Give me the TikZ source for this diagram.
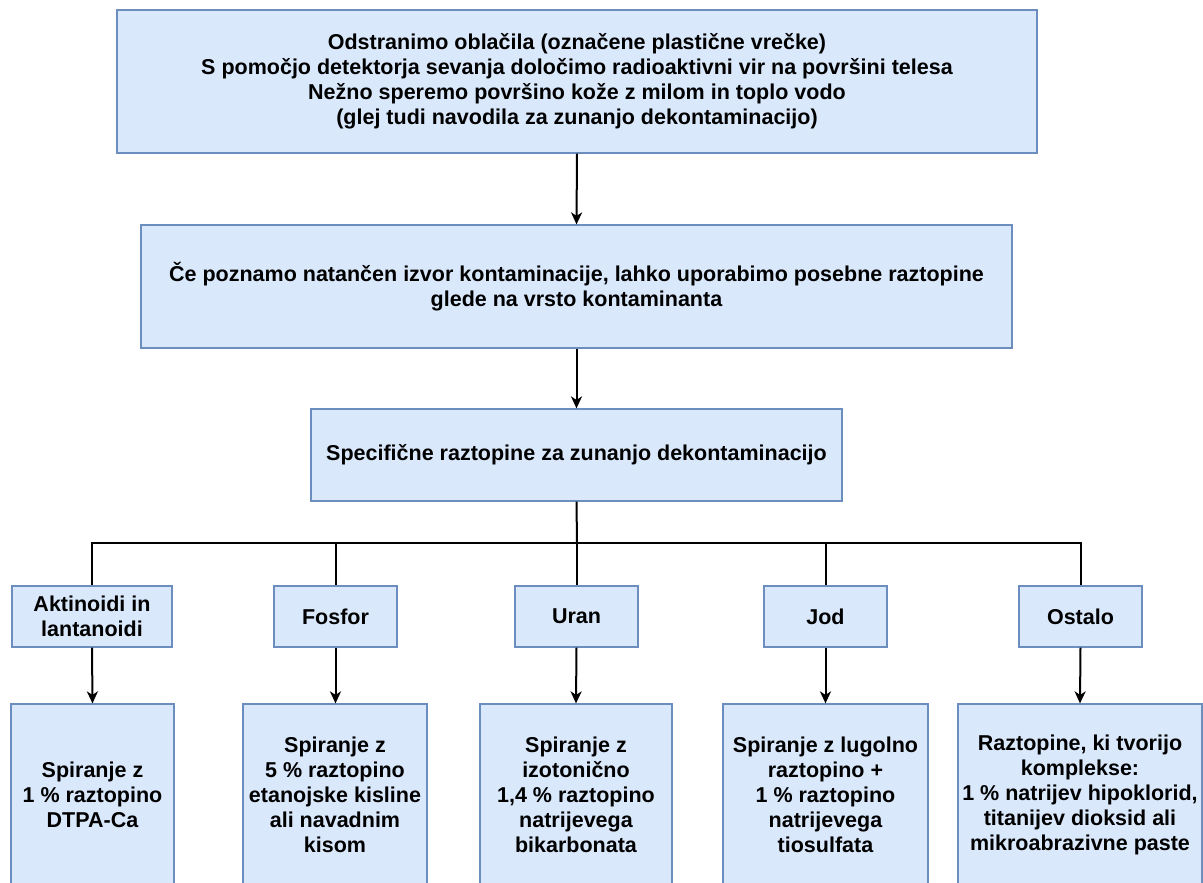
\documentclass[tikz,border=0pt]{standalone}
\usepackage{fontspec}
\setmainfont{Liberation Sans}
\usetikzlibrary{arrows.meta}
\definecolor{boxfill}{HTML}{DAE8FC}
\definecolor{boxline}{HTML}{6C8EBF}
\tikzset{
  box/.style={draw=boxline, fill=boxfill, line width=1.2pt, align=center, inner sep=0pt,
    font=\fontsize{21.5}{25}\selectfont\bfseries},
  conn/.style={draw=black, line width=2pt},
  arr/.style={conn, -{Stealth[length=12pt,width=11pt,inset=3.5pt]}}
}
\begin{document}
\begin{tikzpicture}[x=1pt,y=-1pt]
\useasboundingbox[fill=white] (0,0) rectangle (1203,883);
\node[box, minimum width=920pt, minimum height=143pt] (top) at (577,81.5)
  {Odstranimo oblačila (označene plastične vrečke)\\
   S pomočjo detektorja sevanja določimo radioaktivni vir na površini telesa\\
   Nežno speremo površino kože z milom in toplo vodo\\
   (glej tudi navodila za zunanjo dekontaminacijo)};
\node[box, minimum width=871pt, minimum height=123pt] (second) at (576.5,286.5)
  {Če poznamo natančen izvor kontaminacije, lahko uporabimo posebne raztopine\\
   glede na vrsto kontaminanta};
\node[box, minimum width=531pt, minimum height=92pt] (third) at (576.5,455)
  {Specifične raztopine za zunanjo dekontaminacijo};
% categories
\node[box, minimum width=160pt, minimum height=61pt] (c1) at (92,616.5) {Aktinoidi in\\lantanoidi};
\node[box, minimum width=123pt, minimum height=61pt] (c2) at (335.5,616.5) {Fosfor};
\node[box, minimum width=123pt, minimum height=61pt] (c3) at (576.5,616.5) {Uran};
\node[box, minimum width=123pt, minimum height=61pt] (c4) at (825.5,616.5) {Jod};
\node[box, minimum width=123pt, minimum height=61pt] (c5) at (1080.5,616.5) {Ostalo};
% bottom boxes
\node[box, minimum width=163pt, minimum height=182pt] (b1) at (92.5,795)
  {Spiranje z\\1 \% raztopino\\DTPA-Ca};
\node[box, minimum width=184pt, minimum height=182pt] (b2) at (335,795)
  {Spiranje z\\5 \% raztopino\\etanojske kisline\\ali navadnim\\kisom};
\node[box, minimum width=192pt, minimum height=182pt] (b3) at (576,795)
  {Spiranje z\\izotonično\\1,4 \% raztopino\\natrijevega\\bikarbonata};
\node[box, minimum width=205pt, minimum height=182pt] (b4) at (825.5,795)
  {Spiranje z lugolno\\raztopino +\\1 \% raztopino\\natrijevega\\tiosulfata};
\node[box, minimum width=244pt, minimum height=182pt] (b5) at (1080,795)
  {Raztopine, ki tvorijo\\komplekse:\\1 \% natrijev hipoklorid,\\titanijev dioksid ali\\mikroabrazivne paste};
% connectors
\draw[arr] (top.south) -- (second.north);
\draw[arr] (second.south) -- (third.north);
\coordinate (bj) at (577,543);
\draw[conn] (third.south) -- (bj);
\draw[conn] (bj) -| (c1.north);
\draw[conn] (bj) -| (c2.north);
\draw[conn] (bj) -| (c3.north);
\draw[conn] (bj) -| (c4.north);
\draw[conn] (bj) -| (c5.north);
\draw[arr] (c1.south) -- (b1.north);
\draw[arr] (c2.south) -- (c2.south |- b2.north);
\draw[arr] (c3.south) -- (b3.north);
\draw[arr] (c4.south) -- (b4.north);
\draw[arr] (c5.south) -- (b5.north);
\end{tikzpicture}
\end{document}
